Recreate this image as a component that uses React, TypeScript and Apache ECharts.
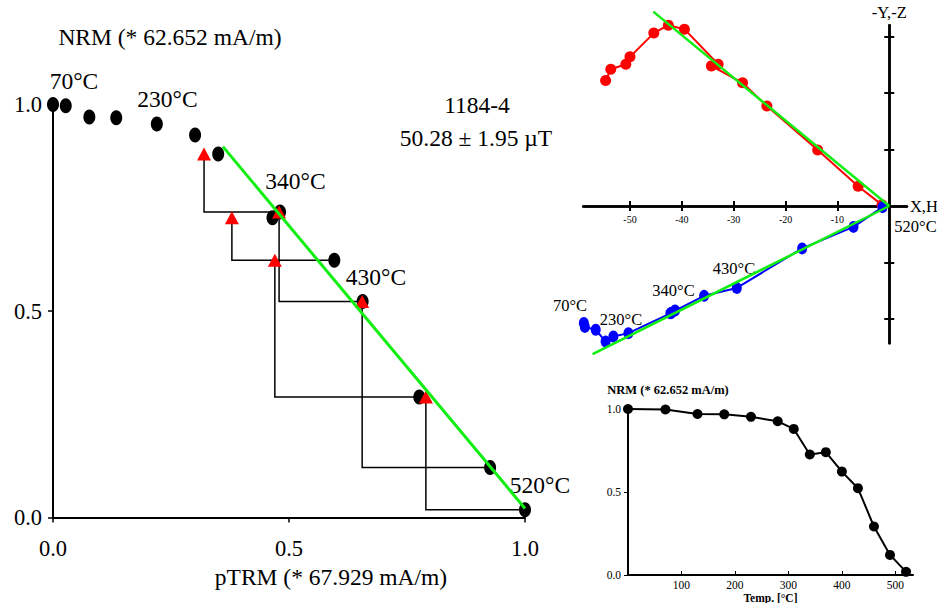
import React, { useEffect, useRef } from "react";
import * as echarts from "echarts";

// Thermal demagnetisation steps (°C)
const steps = [0, 70, 130, 180, 230, 280, 310, 340, 370, 400, 430, 460, 490, 520];
// NRM remaining, as a fraction of 62.652 mA/m
const nrmFrac = [1.0, 0.997, 0.97, 0.968, 0.953, 0.926, 0.88, 0.726, 0.74, 0.623, 0.523, 0.292, 0.121, 0.019];
// pTRM gained, as a fraction of 67.929 mA/m
const ptrmFrac = [0, 0.027, 0.077, 0.134, 0.22, 0.301, 0.35, 0.465, 0.481, 0.596, 0.656, 0.776, 0.926, 1.0];

// pTRM checks: check value, step whose temperature was repeated, step after which it was done
const checkPtrm = [0.32, 0.379, 0.479, 0.47, 0.655, 0.79];
const checkRef = [6, 7, 8, 9, 10, 11];
const checkAt = [8, 9, 10, 11, 12, 13];

// Arai best-fit segment
const araiFitX = [0.36, 1.0];
const araiFitY = [0.898, 0.022];

// Orthogonal projection: X vs -Y (red) and H vs -Z (blue)
const zijX = [-54.7, -53.7, -50.8, -50.0, -45.4, -42.6, -39.5, -33.0, -34.3, -28.3, -23.6, -13.8, -6.0, -1.4];
const zijY = [22.2, 24.2, 25.1, 26.4, 30.6, 32.0, 31.3, 25.1, 24.8, 21.8, 17.7, 9.9, 3.5, 0.2];
const zijH = [-58.9, -58.7, -56.6, -54.7, -53.2, -50.3, -42.2, -42.0, -41.3, -35.7, -29.4, -16.8, -6.9, -1.3];
const zijZ = [-20.7, -21.4, -21.9, -24.0, -23.1, -22.5, -19.0, -18.9, -18.5, -15.9, -14.5, -7.5, -3.7, -0.2];
const zijTicksX = [-50, -40, -30, -20, -10];
const zijTicksY = [-20, -10, 10, 20, 30];
// Principal component fits through the origin
const fitXY = [[-45.5, 34.4], [0, 0]];
const fitHZ = [[-57.2, -26.2], [0, 0]];
const demagTicks = [100, 200, 300, 400, 500];

const SERIF = "Liberation Serif";
const GREEN = "#11ee11";

// Zijderveld frame: value ranges and pixel box
const ZX_MIN = -59;
const ZX_MAX = 3.4;
const ZY_MIN = -24.3;
const ZY_MAX = 32;
const Z_LEFT = 583.3;
const Z_TOP = 25.2;
const Z_W = 323.6;
const Z_H = 318.1;
// offsets that bring both axes to the origin
const Z_OFF_X = -(Z_H * (0 - ZY_MIN)) / (ZY_MAX - ZY_MIN);
const Z_OFF_Y = -(Z_W * (0 - ZX_MIN)) / (ZX_MAX - ZX_MIN);

function txt(text: string, x: number, y: number, size: number, weight = "normal") {
  return {
    type: "text",
    x,
    y,
    silent: true,
    style: {
      text,
      fill: "#000",
      fontSize: size,
      fontFamily: SERIF,
      fontWeight: weight,
      textAlign: "center",
      textVerticalAlign: "middle",
      align: "center",
      verticalAlign: "middle",
    },
  };
}

export default function App() {
  const ref = useRef<HTMLDivElement>(null);

  useEffect(() => {
    if (!ref.current) return;
    const chart = echarts.init(ref.current, undefined, { renderer: "svg" });

    const zip = (a: number[], b: number[]) => a.map((v, i) => [v, b[i]]);

    const checkLines = checkPtrm.map((cx, k) => {
      const y0 = nrmFrac[checkRef[k]];
      const j = checkAt[k];
      return { coords: [[cx, y0], [cx, nrmFrac[j]], [ptrmFrac[j], nrmFrac[j]]] };
    });
    const checkPts = checkPtrm.map((cx, k) => [cx, nrmFrac[checkRef[k]]]);

    const blackLabel = { color: "#000", fontFamily: SERIF };

    const zijAxisX = (gridIndex: number, inside: boolean, main: boolean) => ({
      type: "value",
      gridIndex,
      position: "bottom",
      offset: Z_OFF_X,
      min: ZX_MIN,
      max: ZX_MAX,
      axisLine: { onZero: false, lineStyle: { color: "#000", width: 2.5 } },
      axisTick: { show: true, inside, length: 5, customValues: zijTicksX, lineStyle: { color: "#000", width: 2 } },
      axisLabel: {
        show: main,
        customValues: zijTicksX,
        fontSize: 10,
        margin: 8,
        ...blackLabel,
      },
      splitLine: { show: false },
      name: main ? "X,H" : "",
      nameLocation: "end",
      nameGap: 3,
      nameTextStyle: { fontSize: 16.5, ...blackLabel },
    });
    const zijAxisY = (gridIndex: number, inside: boolean, main: boolean) => ({
      type: "value",
      gridIndex,
      position: "left",
      offset: Z_OFF_Y,
      min: ZY_MIN,
      max: ZY_MAX,
      axisLine: { onZero: false, lineStyle: { color: "#000", width: 2.5 } },
      axisTick: { show: true, inside, length: 5, customValues: zijTicksY, lineStyle: { color: "#000", width: 2 } },
      axisLabel: { show: false },
      splitLine: { show: false },
      name: main ? "-Y,-Z" : "",
      nameLocation: "end",
      nameGap: 4,
      nameTextStyle: { fontSize: 16.5, ...blackLabel },
    });

    chart.setOption({
      animation: false,
      backgroundColor: "#fff",
      textStyle: { fontFamily: SERIF },
      grid: [
        { left: 53, top: 104.5, width: 472, height: 413, outerBoundsMode: "none" },
        { left: Z_LEFT, top: Z_TOP, width: Z_W, height: Z_H, outerBoundsMode: "none" },
        { left: Z_LEFT, top: Z_TOP, width: Z_W, height: Z_H, outerBoundsMode: "none" },
        { left: 628, top: 409, width: 285, height: 166, outerBoundsMode: "none" },
      ],
      xAxis: [
        {
          type: "value",
          gridIndex: 0,
          min: 0,
          max: 1,
          interval: 0.5,
          axisLine: { onZero: false, lineStyle: { color: "#000", width: 2 } },
          axisTick: { length: 5, lineStyle: { color: "#000", width: 1.5 } },
          axisLabel: { formatter: (v: number) => v.toFixed(1), fontSize: 22.5, margin: 19, ...blackLabel },
          splitLine: { show: false },
        },
        zijAxisX(1, false, true),
        zijAxisX(2, true, false),
        {
          type: "value",
          gridIndex: 3,
          min: 0,
          max: 533,
          axisLine: { onZero: false, lineStyle: { color: "#000", width: 2 } },
          axisTick: { inside: true, length: 4, customValues: demagTicks, lineStyle: { color: "#000", width: 1 } },
          axisLabel: {
            customValues: demagTicks,
            fontSize: 11.5,
            margin: 4,
            ...blackLabel,
          },
          splitLine: { show: false },
          name: "Temp. [°C]",
          nameLocation: "middle",
          nameGap: 17,
          nameTextStyle: { fontSize: 11.5, fontWeight: "bold", ...blackLabel },
        },
      ],
      yAxis: [
        {
          type: "value",
          gridIndex: 0,
          min: 0,
          max: 1,
          interval: 0.5,
          axisLine: { onZero: false, lineStyle: { color: "#000", width: 2 } },
          axisTick: { length: 5, lineStyle: { color: "#000", width: 1.5 } },
          axisLabel: { formatter: (v: number) => v.toFixed(1), fontSize: 22.5, margin: 11, ...blackLabel },
          splitLine: { show: false },
        },
        zijAxisY(1, false, true),
        zijAxisY(2, true, false),
        {
          type: "value",
          gridIndex: 3,
          min: 0,
          max: 1,
          interval: 0.5,
          axisLine: { onZero: false, lineStyle: { color: "#000", width: 2 } },
          axisTick: { length: 4, lineStyle: { color: "#000", width: 1 } },
          axisLabel: { formatter: (v: number) => v.toFixed(1), fontSize: 11.5, margin: 7, ...blackLabel },
          splitLine: { show: false },
        },
      ],
      series: [
        {
          type: "lines",
          coordinateSystem: "cartesian2d",
          xAxisIndex: 0,
          yAxisIndex: 0,
          polyline: true,
          silent: true,
          lineStyle: { color: "#000", width: 1.5, opacity: 1 },
          data: checkLines,
          z: 2,
        },
        {
          type: "scatter",
          xAxisIndex: 0,
          yAxisIndex: 0,
          symbol: "circle",
          symbolSize: [12, 15],
          itemStyle: { color: "#000", opacity: 1 },
          data: zip(ptrmFrac, nrmFrac),
          clip: false,
          z: 3,
        },
        {
          type: "scatter",
          xAxisIndex: 0,
          yAxisIndex: 0,
          symbol: "triangle",
          symbolSize: [14, 13],
          itemStyle: { color: "#ff0000", opacity: 1 },
          data: checkPts,
          clip: false,
          z: 4,
        },
        {
          type: "line",
          xAxisIndex: 0,
          yAxisIndex: 0,
          showSymbol: false,
          symbol: "none",
          lineStyle: { color: GREEN, width: 3 },
          data: zip(araiFitX, araiFitY),
          clip: false,
          z: 5,
        },
        {
          type: "line",
          xAxisIndex: 1,
          yAxisIndex: 1,
          symbol: "circle",
          symbolSize: 11,
          itemStyle: { color: "#ff0000", opacity: 1 },
          lineStyle: { color: "#ff0000", width: 2 },
          data: zip(zijX, zijY),
          clip: false,
          z: 3,
        },
        {
          type: "line",
          xAxisIndex: 1,
          yAxisIndex: 1,
          symbol: "circle",
          symbolSize: [10, 12],
          itemStyle: { color: "#0000ff", opacity: 1 },
          lineStyle: { color: "#0000ff", width: 2 },
          data: zip(zijH, zijZ),
          clip: false,
          z: 3,
        },
        {
          type: "line",
          xAxisIndex: 1,
          yAxisIndex: 1,
          symbol: "none",
          lineStyle: { color: GREEN, width: 2.5 },
          data: fitXY,
          clip: false,
          z: 5,
        },
        {
          type: "line",
          xAxisIndex: 1,
          yAxisIndex: 1,
          symbol: "none",
          lineStyle: { color: GREEN, width: 2.5 },
          data: fitHZ,
          clip: false,
          z: 5,
        },
        {
          type: "line",
          xAxisIndex: 3,
          yAxisIndex: 3,
          symbol: "circle",
          symbolSize: 10,
          itemStyle: { color: "#000", opacity: 1 },
          lineStyle: { color: "#000", width: 2 },
          data: zip(steps, nrmFrac),
          clip: false,
          z: 3,
        },
      ],
      graphic: [
        txt("NRM (* 62.652 mA/m)", 170, 37, 23.5),
        txt("pTRM (* 67.929 mA/m)", 331, 577, 23.5),
        txt("1184-4", 477, 104.5, 23.5),
        txt("50.28 ± 1.95 µT", 476, 138, 23.5),
        txt("70°C", 74, 81, 23.5),
        txt("230°C", 167.5, 98.5, 23.5),
        txt("340°C", 295.5, 181, 23.5),
        txt("430°C", 376, 277, 23.5),
        txt("520°C", 540, 485, 23.5),
        txt("520°C", 915.5, 226, 16.5),
        txt("70°C", 570, 305, 16.5),
        txt("230°C", 621, 319.5, 16.5),
        txt("340°C", 673.5, 290, 16.5),
        txt("430°C", 734, 268, 16.5),
        txt("NRM (* 62.652 mA/m)", 668, 390, 12.5, "bold"),
      ],
    });

    return () => chart.dispose();
  }, []);

  return (
    <div
      ref={ref}
      style={{ position: "absolute", left: 0, top: 0, width: 937, height: 603, background: "#fff" }}
    />
  );
}
